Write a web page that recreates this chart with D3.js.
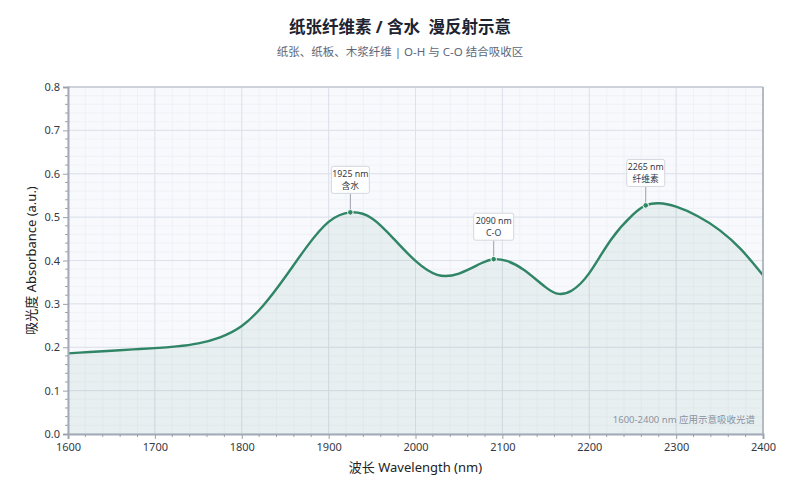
<!DOCTYPE html>
<html>
<head>
<meta charset="utf-8">
<script src="https://cdn.jsdelivr.net/npm/d3@7"></script>
<style>
  body { margin: 0; background: #fff; }
  svg text { font-family: "Noto Sans", "Noto Sans CJK SC", sans-serif; }
</style>
</head>
<body>
<div id="chart"></div>
<script>
// Spectrum
const wavelengths = [1600, 1625, 1650, 1675, 1700, 1725, 1750, 1775, 1800, 1825, 1850, 1875, 1900, 1925, 1950, 1975,
                     2000, 2025, 2050, 2075, 2090, 2105, 2125, 2150, 2165, 2180, 2200, 2225, 2250, 2265, 2280, 2300,
                     2325, 2350, 2375, 2400];
const absorbance = [0.186, 0.189, 0.192, 0.195, 0.198, 0.202, 0.209, 0.223, 0.249, 0.297, 0.362, 0.432, 0.489, 0.511, 0.497, 0.450,
                    0.399, 0.367, 0.370, 0.393, 0.403, 0.399, 0.378, 0.338, 0.323, 0.331, 0.371, 0.448, 0.505, 0.527, 0.532, 0.524,
                    0.502, 0.470, 0.425, 0.366];

// Peak annotations
const peakNm = [1925, 2090, 2265];
const peakLabels = ["含水", "C-O", "纤维素"];

const xTicks = [1600, 1700, 1800, 1900, 2000, 2100, 2200, 2300, 2400];
const yTicks = [0, 0.1, 0.2, 0.3, 0.4, 0.5, 0.6, 0.7, 0.8];

const margin = { top: 87, right: 37, bottom: 66, left: 68 };
const W = 800, H = 500;
const width = W - margin.left - margin.right;
const height = H - margin.top - margin.bottom;

const svg = d3.select("#chart").append("svg")
    .attr("width", W)
    .attr("height", H);

// Title + subtitle
svg.append("text")
    .attr("x", W / 2).attr("y", 33)
    .attr("text-anchor", "middle")
    .style("font-size", "16.5px").style("font-weight", "bold")
    .style("white-space", "pre")
    .attr("fill", "#1d2330")
    .text("纸张纤维素 / 含水  漫反射示意");
svg.append("text")
    .attr("x", W / 2).attr("y", 56)
    .attr("text-anchor", "middle")
    .style("font-size", "11.5px")
    .attr("fill", "#5d6778")
    .text("纸张、纸板、木浆纤维 | O-H 与 C-O 结合吸收区");

const g = svg.append("g").attr("transform", `translate(${margin.left},${margin.top})`);

const x = d3.scaleLinear().domain([1600, 2400]).range([0, width]);
const y = d3.scaleLinear().domain([0, 0.8]).range([height, 0]);

// Plot background
g.append("rect")
    .attr("width", width).attr("height", height)
    .attr("fill", "#f8f9fc");

// Minor grid
g.append("g").selectAll("line")
    .data(d3.range(1600, 2401, 20))
    .join("line")
    .attr("x1", d => x(d)).attr("x2", d => x(d))
    .attr("y1", 0).attr("y2", height)
    .attr("stroke", "#edf0f5").attr("stroke-width", 0.8);
g.append("g").selectAll("line")
    .data(d3.range(0, 41).map(i => i * 0.02))
    .join("line")
    .attr("y1", d => y(d)).attr("y2", d => y(d))
    .attr("x1", 0).attr("x2", width)
    .attr("stroke", "#edf0f5").attr("stroke-width", 0.8);

// Major grid
g.append("g").selectAll("line")
    .data(xTicks)
    .join("line")
    .attr("x1", d => x(d)).attr("x2", d => x(d))
    .attr("y1", 0).attr("y2", height)
    .attr("stroke", "#dde1ea").attr("stroke-width", 1);
g.append("g").selectAll("line")
    .data(yTicks)
    .join("line")
    .attr("y1", d => y(d)).attr("y2", d => y(d))
    .attr("x1", 0).attr("x2", width)
    .attr("stroke", "#dde1ea").attr("stroke-width", 1);

const data = wavelengths.map((w, i) => ({ w, a: absorbance[i] }));
const curve = d3.curveNatural;

// Area + line
g.append("path")
    .datum(data)
    .attr("fill", "#2f8565").attr("fill-opacity", 0.08)
    .attr("d", d3.area().x(d => x(d.w)).y0(height).y1(d => y(d.a)).curve(curve));

g.append("path")
    .datum(data)
    .attr("fill", "none")
    .attr("stroke", "#2f8565").attr("stroke-width", 2.4)
    .attr("d", d3.line().x(d => x(d.w)).y(d => y(d.a)).curve(curve));

// Frame: top and right
g.append("line").attr("x1", 0).attr("x2", width).attr("y1", 0).attr("y2", 0)
    .attr("stroke", "#b4bac4").attr("stroke-width", 1.2);
g.append("line").attr("x1", width).attr("x2", width).attr("y1", 0).attr("y2", height)
    .attr("stroke", "#b4bac4").attr("stroke-width", 2);

// Axes
const xAxis = g.append("g").attr("transform", `translate(0,${height})`)
    .call(d3.axisBottom(x).tickValues(xTicks).tickFormat(d3.format("d")).tickSize(5).tickPadding(4));
const yAxis = g.append("g")
    .call(d3.axisLeft(y).tickValues(yTicks).tickFormat(d3.format(".1f")).tickSize(5).tickPadding(3));

// Minor ticks
g.append("g").selectAll("line")
    .data(d3.range(1600, 2401, 20).filter(d => d % 100 !== 0))
    .join("line")
    .attr("x1", d => x(d)).attr("x2", d => x(d))
    .attr("y1", height).attr("y2", height + 3)
    .attr("stroke", "#9aa2ae");
g.append("g").selectAll("line")
    .data(d3.range(0, 41).map(i => i * 0.02).filter((d, i) => i % 5 !== 0))
    .join("line")
    .attr("y1", d => y(d)).attr("y2", d => y(d))
    .attr("x1", 0).attr("x2", -3)
    .attr("stroke", "#9aa2ae");

[xAxis, yAxis].forEach(ax => {
    ax.select(".domain").attr("stroke", "#a3abb7").attr("stroke-width", 2);
    ax.selectAll(".tick line").attr("stroke", "#9aa2ae");
    ax.selectAll(".tick text").attr("fill", "#333a45").style("font-size", "11px");
});

// Axis titles
svg.append("text")
    .attr("x", margin.left + width / 2).attr("y", 472)
    .attr("text-anchor", "middle")
    .style("font-size", "13px").attr("fill", "#222")
    .text("波长 Wavelength (nm)");
svg.append("text")
    .attr("transform", `translate(36,${margin.top + height / 2}) rotate(-90)`)
    .attr("text-anchor", "middle")
    .style("font-size", "13px").attr("fill", "#222")
    .text("吸光度 Absorbance (a.u.)");

// Peak annotations
const valueAt = w => absorbance[wavelengths.indexOf(w)];
peakNm.forEach((w, i) => {
    const px = x(w), py = y(valueAt(w));
    const boxH = 27, boxW = i === 1 ? 40 : 38;
    const top = py - 19 - boxH;
    g.append("line")
        .attr("x1", px).attr("x2", px)
        .attr("y1", top + boxH).attr("y2", py)
        .attr("stroke", "#9aa0aa").attr("stroke-width", 1);
    g.append("rect")
        .attr("x", px - boxW / 2).attr("y", top)
        .attr("width", boxW).attr("height", boxH)
        .attr("rx", 2)
        .attr("fill", "#fff").attr("fill-opacity", 0.92)
        .attr("stroke", "#d3d7de");
    g.append("text")
        .attr("x", px).attr("y", top + 10.5)
        .attr("text-anchor", "middle")
        .style("font-size", "8.8px").attr("fill", "#333a45")
        .text(`${w} nm`);
    g.append("text")
        .attr("x", px).attr("y", top + 22.5)
        .attr("text-anchor", "middle")
        .style("font-size", "8.8px").attr("fill", "#333a45")
        .text(peakLabels[i]);
    g.append("circle")
        .attr("cx", px).attr("cy", py).attr("r", 2.8)
        .attr("fill", "#2f8565").attr("stroke", "#fff").attr("stroke-width", 1);
});

// Note
g.append("text")
    .attr("x", width - 8).attr("y", height - 11)
    .attr("text-anchor", "end")
    .style("font-size", "9.5px").attr("fill", "#8b93a0")
    .text("1600-2400 nm 应用示意吸收光谱");
</script>
</body>
</html>
